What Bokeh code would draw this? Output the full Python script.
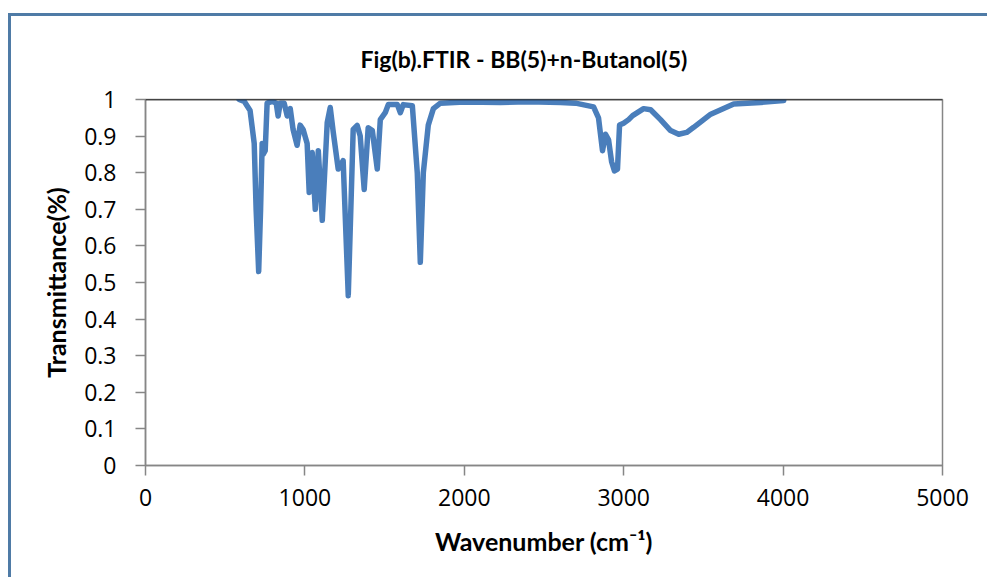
from bokeh.plotting import figure
from bokeh.models import Span, FixedTicker
from bokeh.embed import file_html
from bokeh.resources import INLINE

# --- data ---
wavenumber = [587, 619, 656, 682, 694, 710, 722, 732, 738, 751, 763, 795, 820, 832, 845,
              870, 889, 908, 926, 951, 970, 989, 1014, 1027, 1046, 1065, 1084, 1109, 1140,
              1159, 1178, 1209, 1240, 1272, 1303, 1328, 1347, 1372, 1397, 1423, 1454, 1473,
              1504, 1523, 1580, 1599, 1617, 1674, 1705, 1724, 1743, 1774, 1806, 1850, 2000,
              2227, 2400, 2604, 2698, 2811, 2842, 2867, 2886, 2905, 2924, 2942, 2961, 2974,
              2999, 3031, 3056, 3125, 3169, 3231, 3294, 3345, 3395, 3439, 3546, 3690, 3860,
              4004]
transmittance = [1.0, 0.995, 0.97, 0.88, 0.70, 0.53, 0.70, 0.88, 0.85, 0.86, 0.99, 0.995,
                 0.99, 0.955, 0.99, 0.99, 0.955, 0.975, 0.918, 0.875, 0.93, 0.918, 0.88,
                 0.746, 0.855, 0.70, 0.86, 0.67, 0.937, 0.978, 0.91, 0.81, 0.833, 0.464,
                 0.918, 0.929, 0.90, 0.754, 0.923, 0.915, 0.81, 0.945, 0.964, 0.986, 0.986,
                 0.964, 0.986, 0.983, 0.80, 0.555, 0.80, 0.93, 0.975, 0.99, 0.993, 0.992,
                 0.994, 0.992, 0.99, 0.98, 0.95, 0.86, 0.905, 0.89, 0.83, 0.805, 0.81, 0.93,
                 0.935, 0.945, 0.956, 0.975, 0.972, 0.945, 0.915, 0.905, 0.91, 0.924, 0.96,
                 0.988, 0.992, 0.997]

x_ticks = [0, 1000, 2000, 3000, 4000, 5000]
y_ticks = [0, 0.1, 0.2, 0.3, 0.4, 0.5, 0.6, 0.7, 0.8, 0.9, 1.0]
y_tick_labels = ["0", "0.1", "0.2", "0.3", "0.4", "0.5", "0.6", "0.7", "0.8", "0.9", "1"]

title_text = "Fig(b).FTIR - BB(5)+n-Butanol(5)"
x_label = "Wavenumber (cm\u207b\u00b9)"
y_label = "Transmittance(%)"

TICK_FONT = "Open Sans"
BOLD_FONT = "Lato"
AXIS_GRAY = "#868686"

p = figure(width=979, height=564, output_backend="svg", toolbar_location=None,
           x_range=(0, 5000), y_range=(0, 1),
           min_border_left=134, min_border_right=48, min_border_top=83,
           min_border_bottom=115)
p.styles = {"margin-left": "8px", "margin-top": "13px",
            "border-left": "3px solid #4f7ba6", "border-top": "3px solid #4f7ba6"}

p.line(wavenumber, transmittance, line_color="#4A7EBB", line_width=5.5,
       line_join="round", line_cap="round")

p.xgrid.visible = False
p.ygrid.visible = False
p.outline_line_color = AXIS_GRAY
p.outline_line_width = 1.5
p.background_fill_color = "white"
p.border_fill_color = "white"

p.add_layout(Span(location=1.0, dimension="width", line_color="black", line_width=1.5))

for ax in (p.xaxis[0], p.yaxis[0]):
    ax.axis_line_color = AXIS_GRAY
    ax.axis_line_width = 1.5
    ax.major_tick_line_color = AXIS_GRAY
    ax.major_tick_line_width = 1.5
    ax.major_tick_in = 0
    ax.major_tick_out = 10
    ax.minor_tick_line_color = None
    ax.major_label_text_font = TICK_FONT
    ax.major_label_text_font_size = "23px"
    ax.major_label_text_color = "black"
    ax.axis_label_text_font = BOLD_FONT
    ax.axis_label_text_font_style = "bold"
    ax.axis_label_text_font_size = "25px"
    ax.axis_label_text_color = "black"

p.xaxis.ticker = FixedTicker(ticks=x_ticks)
p.yaxis.ticker = FixedTicker(ticks=y_ticks)
p.yaxis.major_label_overrides = {t: s for t, s in zip(y_ticks, y_tick_labels)}
p.xaxis.major_label_standoff = 13
p.yaxis.major_label_standoff = 19
p.xaxis.axis_label = x_label
p.yaxis.axis_label = y_label
p.xaxis.axis_label_standoff = 17
p.yaxis.axis_label_standoff = 10

p.title.text = title_text
p.title.align = "left"
p.title.offset = 215
p.title.standoff = 53
p.title.text_font = BOLD_FONT
p.title.text_font_style = "bold"
p.title.text_font_size = "23px"
p.title.text_color = "black"

open("out.html", "w").write(file_html(p, INLINE))
